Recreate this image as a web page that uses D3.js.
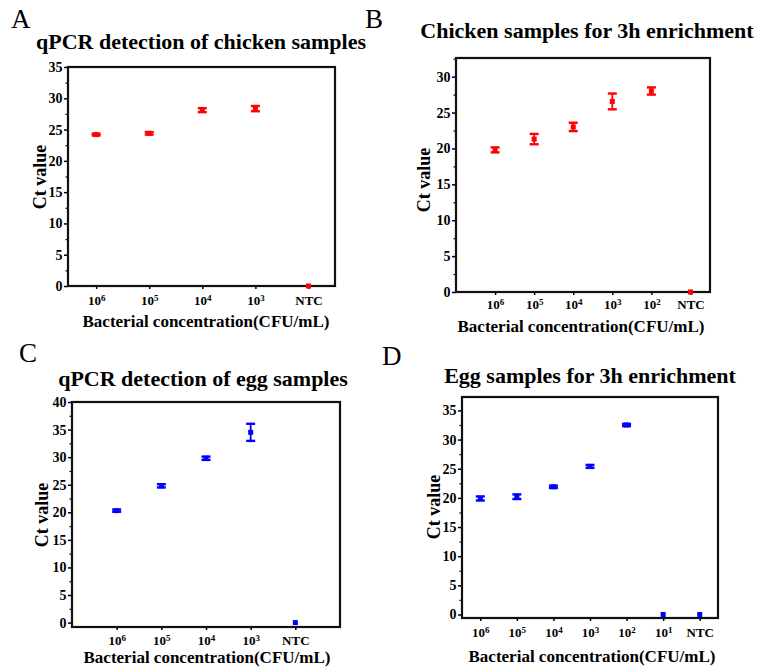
<!DOCTYPE html>
<html>
<head>
<meta charset="utf-8">
<script src="https://cdnjs.cloudflare.com/ajax/libs/d3/7.8.5/d3.min.js"></script>
</head>
<body style="margin:0; background:#fff">
<svg id="fig" width="759" height="668"></svg>
<script>
var FONT = "'Liberation Serif'"

// x tick labels, "10^6" is drawn as 10 with a superscript 6
var labelsA = ["10^6", "10^5", "10^4", "10^3", "NTC"]
var labelsB = ["10^6", "10^5", "10^4", "10^3", "10^2", "NTC"]
var labelsC = ["10^6", "10^5", "10^4", "10^3", "NTC"]
var labelsD = ["10^6", "10^5", "10^4", "10^3", "10^2", "10^1", "NTC"]

// mean Ct values and half error bars
var ctA  = [24.2, 24.4, 28.1, 28.35, 0]
var errA = [0.15, 0.2, 0.32, 0.42, 0]
var ctB  = [19.8, 21.3, 23.0, 26.55, 28.0, 0]
var errB = [0.35, 0.72, 0.58, 1.1, 0.5, 0]
var ctC  = [20.3, 24.8, 29.8, 34.5, 0]
var errC = [0.2, 0.3, 0.3, 1.55, 0]
var ctD  = [19.9, 20.2, 21.9, 25.4, 32.5, 0, 0]
var errD = [0.35, 0.4, 0.2, 0.25, 0.2, 0, 0]

// y ticks
var yTicksA = [0, 5, 10, 15, 20, 25, 30, 35]
var yTicksB = [0, 5, 10, 15, 20, 25, 30]
var yTicksC = [0, 5, 10, 15, 20, 25, 30, 35, 40]
var yTicksD = [0, 5, 10, 15, 20, 25, 30, 35]

var svg = d3.select('#fig')
svg.append('rect').attr('width', 759).attr('height', 668).attr('fill', '#fff')

var panels = [
  {letter: 'A', lx: 11, ly: 28, title: 'qPCR detection of chicken samples', tx: 201, ty: 49,
   box: [68, 67, 335, 286], xd: [0.47, 5.5], yd: [0, 35], yt: yTicksA,
   labels: labelsA, ct: ctA, err: errA, color: '#ff0000',
   ylx: 46, yly: 177, xlx: 206, xly: 327, xtOff: 19},
  {letter: 'B', lx: 365, ly: 28, title: 'Chicken samples for 3h enrichment', tx: 587, ty: 38,
   box: [456, 58, 710, 292], xd: [0, 6.5], yd: [0, 32.6], yt: yTicksB,
   labels: labelsB, ct: ctB, err: errB, color: '#ff0000',
   ylx: 430, yly: 180, xlx: 581, xly: 332, xtOff: 17},
  {letter: 'C', lx: 19, ly: 362, title: 'qPCR detection of egg samples', tx: 203, ty: 386,
   box: [72, 402, 340, 627], xd: [0, 6], yd: [-0.8, 40], yt: yTicksC,
   labels: labelsC, ct: ctC, err: errC, color: '#0000ff',
   ylx: 48, yly: 515, xlx: 207, xly: 663, xtOff: 18},
  {letter: 'D', lx: 382, ly: 365, title: 'Egg samples for 3h enrichment', tx: 590, ty: 383,
   box: [462, 397, 718, 618], xd: [0.5, 7.5], yd: [-0.6, 37.3], yt: yTicksD,
   labels: labelsD, ct: ctD, err: errD, color: '#0000ff',
   ylx: 440, yly: 507, xlx: 592, xly: 662, xtOff: 19}
]

panels.forEach(drawPanel)

function drawPanel(p) {
  var x0 = p.box[0], y0 = p.box[1], x1 = p.box[2], y1 = p.box[3]
  var x = d3.scaleLinear().domain(p.xd).range([x0, x1])
  var y = d3.scaleLinear().domain(p.yd).range([y1, y0])
  var idx = d3.range(1, p.labels.length + 1)

  svg.append('text').text(p.letter)
    .attr('x', p.lx).attr('y', p.ly)
    .style('font-family', FONT).style('font-size', '27px')

  svg.append('text').text(p.title)
    .attr('x', p.tx).attr('y', p.ty)
    .attr('text-anchor', 'middle')
    .style('font-family', FONT).style('font-size', '22px').style('font-weight', 'bold')

  // minor y ticks half way between majors
  var step = p.yt[1] - p.yt[0]
  var minor = p.yt.map(function(d){ return d + step / 2 }).filter(function(d){ return d < p.yd[1] })
  svg.append('g').attr('transform', 'translate(' + x0 + ',0)')
    .call(d3.axisLeft(y).tickValues(minor).tickSize(2.5).tickFormat(''))
    .call(function(g){ g.select('.domain').remove() })
    .selectAll('line').attr('stroke-width', 1.2)

  var ya = svg.append('g').attr('transform', 'translate(' + x0 + ',0)')
    .call(d3.axisLeft(y).tickValues(p.yt).tickSize(4).tickPadding(1.5))
  ya.select('.domain').remove()
  ya.selectAll('line').attr('stroke-width', 1.5)
  ya.selectAll('text').style('font-family', FONT).style('font-size', '14px').style('font-weight', 'bold')

  var xa = svg.append('g').attr('transform', 'translate(0,' + y1 + ')')
    .call(d3.axisBottom(x).tickValues(idx).tickSize(3).tickFormat(''))
  xa.select('.domain').remove()
  xa.selectAll('line').attr('stroke-width', 1.5)
  xa.selectAll('.tick').each(function(d, i) {
    var lab = p.labels[i].split('^')
    var t = d3.select(this).append('text')
      .attr('y', p.xtOff).attr('fill', '#000')
      .attr('text-anchor', 'middle')
      .style('font-family', FONT).style('font-size', '13px').style('font-weight', 'bold')
    t.append('tspan').text(lab[0])
    if (lab[1]) t.append('tspan').text(lab[1]).attr('dy', '-0.45em').style('font-size', '9px')
  })

  // frame
  svg.append('rect')
    .attr('x', x0).attr('y', y0).attr('width', x1 - x0).attr('height', y1 - y0)
    .attr('fill', 'none').attr('stroke', '#111').attr('stroke-width', 2.2)

  svg.append('text').text('Ct value')
    .attr('transform', 'translate(' + p.ylx + ',' + p.yly + ') rotate(-90)')
    .attr('text-anchor', 'middle')
    .style('font-family', FONT).style('font-size', '18px').style('font-weight', 'bold')

  svg.append('text').text('Bacterial concentration(CFU/mL)')
    .attr('x', p.xlx).attr('y', p.xly)
    .attr('text-anchor', 'middle')
    .style('font-family', FONT).style('font-size', '17px').style('font-weight', 'bold')

  // points with error bars
  var pts = svg.append('g')
  idx.forEach(function(k, i) {
    var v = p.ct[i], e = p.err[i], cx = x(k)
    var g = pts.append('g').attr('stroke', p.color).attr('fill', p.color)
    if (e > 0) {
      g.append('line').attr('x1', cx).attr('x2', cx).attr('y1', y(v - e)).attr('y2', y(v + e)).attr('stroke-width', 1.8)
      g.append('line').attr('x1', cx - 4.5).attr('x2', cx + 4.5).attr('y1', y(v - e)).attr('y2', y(v - e)).attr('stroke-width', 2.4)
      g.append('line').attr('x1', cx - 4.5).attr('x2', cx + 4.5).attr('y1', y(v + e)).attr('y2', y(v + e)).attr('stroke-width', 2.4)
    }
    g.append('rect').attr('x', cx - 2.5).attr('y', y(v) - 2.5).attr('width', 5).attr('height', 5).attr('stroke', 'none')
  })
}
</script>
</body>
</html>
